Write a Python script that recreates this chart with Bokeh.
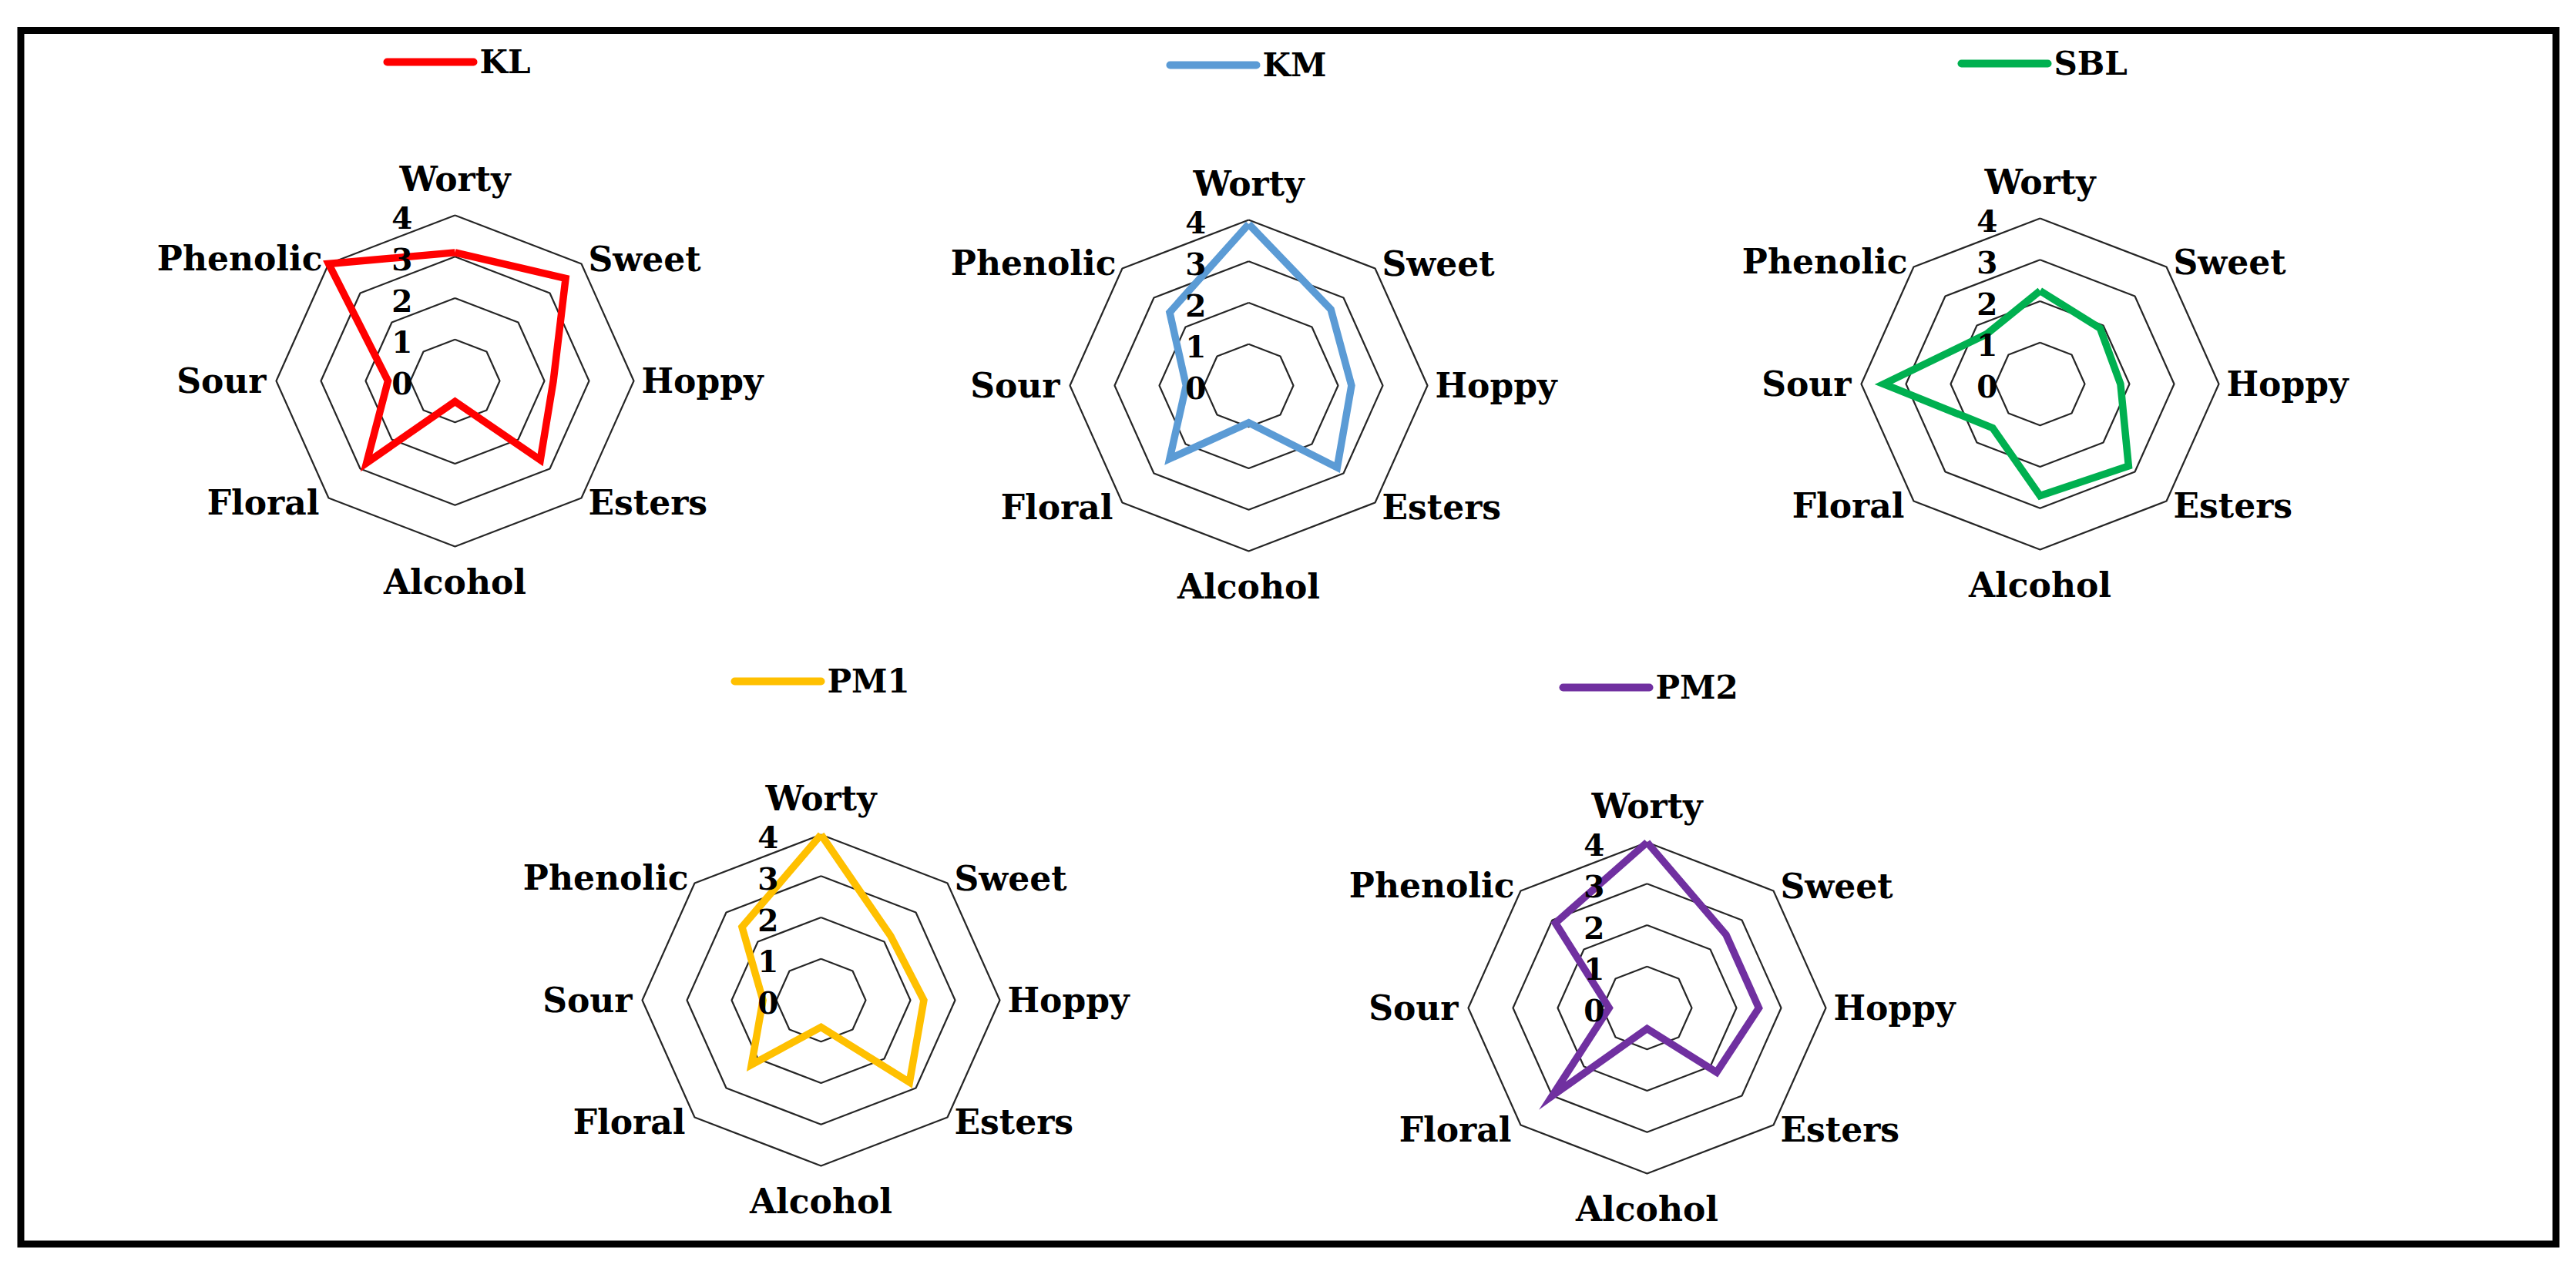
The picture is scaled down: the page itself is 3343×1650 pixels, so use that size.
import math
from bokeh.plotting import figure
from bokeh.models import Range1d
from bokeh.core.properties import value
from bokeh.embed import file_html
from bokeh.resources import INLINE

# ---------------- data ----------------
attributes = ["Worty", "Sweet", "Hoppy", "Esters", "Alcohol", "Floral", "Sour", "Phenolic"]
samples = ["KL", "KM", "SBL", "PM1", "PM2"]
kl = [3.1, 3.5, 2.2, 2.7, 0.5, 2.8, 1.5, 4.0]
km = [3.9, 2.6, 2.3, 2.8, 0.9, 2.5, 1.4, 2.5]
sbl = [2.25, 1.9, 1.8, 2.8, 2.7, 1.5, 3.5, 1.7]
pm1 = [4.0, 2.2, 2.3, 2.8, 0.65, 2.2, 1.3, 2.5]
pm2 = [4.0, 2.5, 2.5, 2.2, 0.5, 3.0, 0.85, 2.9]
tick_values = [0, 1, 2, 3, 4]
tick_labels = ["0", "1", "2", "3", "4"]
series_values = [kl, km, sbl, pm1, pm2]
colors = ["#FF0000", "#5B9BD5", "#00B050", "#FFC000", "#7030A0"]

# ---------------- layout (pixels) ----------------
W, H = 3343, 1650
centers = [(590, 494), (1620, 500), (2647, 498), (1065, 1298), (2137, 1308)]
legend_pos = [(502, 80), (1518, 84), (2545, 82), (953, 884), (2028, 892)]
RX = 58.0    # px per unit, horizontal
RY = 53.75   # px per unit, vertical
RMAX = 4
FONT = value("DejaVu Serif")
# (dx, dy of text middle from outer vertex, align)
label_offsets = [(0, -47, "center"), (9, -6, "left"), (10, 0, "left"), (9, 6, "left"),
                 (0, 46, "center"), (-12, 6, "right"), (-13, 0, "right"), (-8, -7, "right")]

p = figure(width=W, height=H, output_backend="svg", toolbar_location=None,
           x_range=Range1d(0, W), y_range=Range1d(H, 0),
           min_border=0, outline_line_color=None)
p.axis.visible = False
p.grid.visible = False
p.background_fill_color = "white"
p.border_fill_color = "white"


def pt(cx, cy, r, i):
    th = math.pi / 2 - i * math.pi / 4
    return cx + r * RX * math.cos(th), cy - r * RY * math.sin(th)


n = len(attributes)
for k, (cx, cy) in enumerate(centers):
    # rings
    xs, ys = [], []
    for r in tick_values[1:]:
        pts = [pt(cx, cy, r, i) for i in range(n)] + [pt(cx, cy, r, 0)]
        xs.append([q[0] for q in pts])
        ys.append([q[1] for q in pts])
    p.multi_line(xs, ys, line_color="#262626", line_width=2.2)

    # series
    vals = series_values[k]
    sp = [pt(cx, cy, v, i) for i, v in enumerate(vals)]
    sp.append(sp[0])
    p.line([q[0] for q in sp], [q[1] for q in sp], line_color=colors[k],
           line_width=9.5, line_join="miter")

    # tick labels
    p.text(x=[cx - 55] * len(tick_values),
           y=[cy - t * RY + 3 for t in tick_values],
           text=tick_labels, text_align="right", text_baseline="middle",
           text_font=FONT, text_font_style="bold", text_font_size="39px",
           text_color="black")

    # axis labels
    for i, name in enumerate(attributes):
        vx, vy = pt(cx, cy, RMAX, i)
        dx, dy, al = label_offsets[i]
        p.text(x=[vx + dx], y=[vy + dy], text=[name], text_align=al,
               text_baseline="middle", text_font=FONT, text_font_style="bold",
               text_font_size="44px", text_color="black")

    # legend
    lx, ly = legend_pos[k]
    p.line([lx, lx + 112], [ly, ly], line_color=colors[k], line_width=10, line_cap="round")
    p.text(x=[lx + 120], y=[ly], text=[samples[k]], text_align="left",
           text_baseline="middle", text_font=FONT, text_font_style="bold",
           text_font_size="42px", text_color="black")

# outer frame
p.quad(left=[26.5], right=[3316.5], top=[39], bottom=[1614.5],
       fill_color=None, line_color="black", line_width=9, line_join="miter")

open("out.html", "w").write(file_html(p, INLINE))
